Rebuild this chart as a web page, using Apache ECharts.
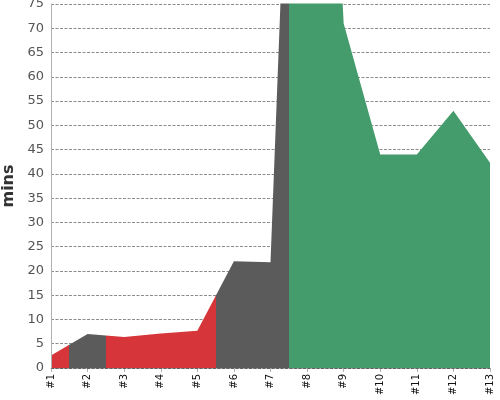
<!DOCTYPE html>
<html><head><meta charset="utf-8">
<script src="https://cdn.jsdelivr.net/npm/echarts@6/dist/echarts.min.js"></script>
<style>html,body{margin:0;padding:0;background:#fff}#c{width:500px;height:400px}</style>
</head><body><div id="c"></div>
<script>
const categories = ['#1','#2','#3','#4','#5','#6','#7','#8','#9','#10','#11','#12','#13'];
const minutes = [2.6, 7.0, 6.4, 7.1, 7.7, 22.0, 21.8, 218, 71, 44, 44, 53, 42.3];
const yTicks = {min: 0, max: 75, interval: 5};
const colorRed = '#d63539', colorGray = '#5b5b5b', colorGreen = '#449c6c';

const points = minutes.map((v, i) => [i, v]);

const chart = echarts.init(document.getElementById('c'), null, {renderer: 'canvas'});
chart.setOption({
  animation: false,
  textStyle: {fontFamily: 'DejaVu Sans'},
  grid: {left: 51, right: 10, top: 4, bottom: 32, outerBoundsMode: 'none', containLabel: false},
  visualMap: {
    type: 'piecewise', show: false, dimension: 0, seriesIndex: 0,
    pieces: [
      {lt: 0.5, color: colorRed},
      {gte: 0.5, lt: 1.5, color: colorGray},
      {gte: 1.5, lt: 4.5, color: colorRed},
      {gte: 4.5, lt: 6.5, color: colorGray},
      {gte: 6.5, color: colorGreen}
    ]
  },
  xAxis: {
    type: 'value', min: 0, max: categories.length - 1, interval: 1,
    splitLine: {show: false},
    axisLine: {lineStyle: {color: '#b0b0b0'}},
    axisTick: {show: true, lineStyle: {color: '#b0b0b0'}, length: 4},
    axisLabel: {rotate: 90, fontSize: 10, color: '#111', margin: 6,
      formatter: v => categories[v] || ''}
  },
  yAxis: {
    type: 'value', min: yTicks.min, max: yTicks.max, interval: yTicks.interval, z: 3,
    name: 'mins', nameLocation: 'middle', nameGap: 26,
    nameTextStyle: {fontSize: 16, fontWeight: 'bold', color: '#333'},
    axisLine: {show: true, lineStyle: {color: '#b0b0b0'}},
    axisTick: {show: false},
    axisLabel: {fontSize: 13, color: '#555', margin: 7},
    splitLine: {show: true, lineStyle: {color: 'rgba(0,0,0,0.45)', type: [3, 1.5], width: 1}}
  },
  series: [{
    type: 'line', data: points, symbol: 'none',
    lineStyle: {width: 1, opacity: 0},
    areaStyle: {opacity: 1}
  }]
});
</script></body></html>
